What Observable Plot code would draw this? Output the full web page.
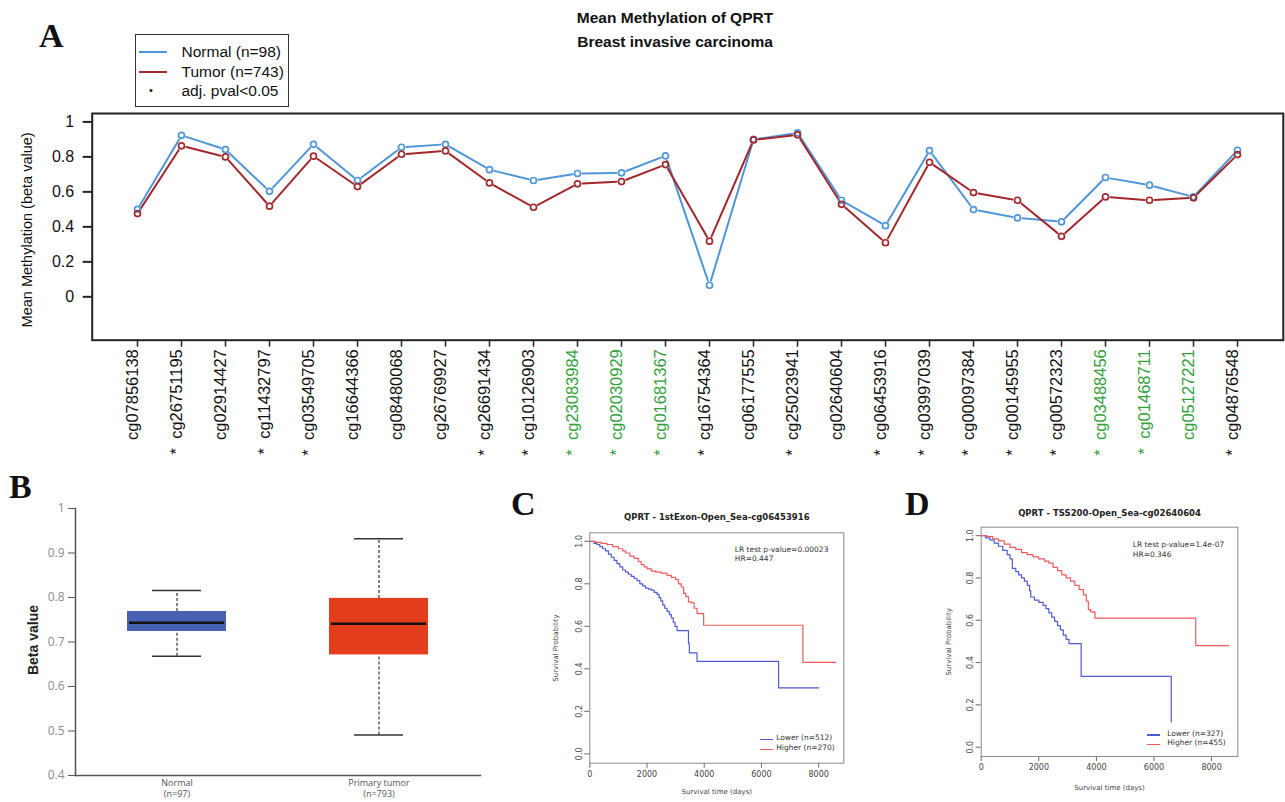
<!DOCTYPE html>
<html><head><meta charset="utf-8">
<script src="https://cdn.jsdelivr.net/npm/d3@7"></script>
<script src="https://cdn.jsdelivr.net/npm/@observablehq/plot@0.6"></script>
<style>
body{margin:0;background:#fff;}
#fig{position:relative;width:1285px;height:802px;overflow:hidden;background:#fff;font-family:Arial,"Liberation Sans",sans-serif;}
.letter{position:absolute;font-family:"Liberation Serif","Times New Roman",serif;font-weight:bold;font-size:34px;line-height:34px;color:#111;}
.t{position:absolute;white-space:nowrap;}
</style></head><body><div id="fig"></div><script>
// ---------- Panel A data ----------
const probes = ["cg07856138","cg26751195","cg02914427","cg11432797","cg03549705","cg16644366","cg08480068","cg26769927","cg26691434","cg10126903","cg23083984","cg02030929","cg01681367","cg16754364","cg06177555","cg25023941","cg02640604","cg06453916","cg03997039","cg00097384","cg00145955","cg00572323","cg03488456","cg01468711","cg05127221","cg04876548"];
const normalMean = [0.500,0.923,0.842,0.603,0.872,0.665,0.855,0.872,0.727,0.665,0.705,0.709,0.806,0.066,0.900,0.937,0.552,0.407,0.836,0.499,0.451,0.429,0.682,0.638,0.571,0.838];
const tumorMean  = [0.476,0.863,0.800,0.518,0.804,0.630,0.815,0.834,0.651,0.512,0.646,0.659,0.756,0.318,0.897,0.926,0.529,0.309,0.769,0.596,0.552,0.346,0.571,0.552,0.566,0.813];
const significant = [0,1,0,1,1,0,0,0,1,1,1,1,1,1,0,1,0,1,1,1,1,1,1,1,0,1];
const highlighted = [0,0,0,0,0,0,0,0,0,0,1,1,1,0,0,0,0,0,0,0,0,0,1,1,1,0];
const yTicksA = [0,0.2,0.4,0.6,0.8,1];
const titleA = ["Mean Methylation of QPRT","Breast invasive carcinoma"];
const legendA = ["Normal (n=98)","Tumor (n=743)","adj. pval<0.05"];

// ---------- Panel B data ----------
const boxGroups = ["Normal","Primary tumor"];
const boxN = [97,793];
const boxMin = [0.668,0.491];
const boxQ1 = [0.7236,0.671];
const boxMedian = [0.743,0.741];
const boxQ3 = [0.7685,0.798];
const boxMax = [0.8157,0.932];
const yTicksB = [0.4,0.5,0.6,0.7,0.8,0.9,1];

// ---------- Panels C / D data (Kaplan-Meier steps) ----------
const cLowerT = [0,150,250,350,450,550,650,750,850,950,1050,1150,1250,1350,1450,1550,1650,1750,1850,1950,2050,2150,2250,2350,2420,2480,2550,2620,2700,2780,2850,2920,2980,3050,3450,3480,3750,6600,8000];
const cLowerS = [1,0.99,0.985,0.975,0.965,0.955,0.94,0.925,0.91,0.895,0.88,0.865,0.855,0.845,0.835,0.825,0.815,0.80,0.79,0.78,0.775,0.77,0.76,0.75,0.735,0.72,0.70,0.685,0.67,0.655,0.64,0.62,0.60,0.58,0.52,0.475,0.435,0.31,0.31];
const cHigherT = [0,200,400,600,800,1000,1150,1250,1400,1550,1700,1800,1900,2000,2150,2300,2500,2700,2850,3000,3100,3200,3280,3350,3450,3550,3650,3750,3980,7450,8600];
const cHigherS = [1,0.995,0.99,0.985,0.975,0.965,0.955,0.945,0.93,0.92,0.905,0.89,0.88,0.87,0.86,0.855,0.85,0.84,0.83,0.82,0.80,0.785,0.755,0.74,0.715,0.71,0.685,0.66,0.605,0.43,0.43];
const dLowerT = [0,150,300,450,600,750,900,1000,1080,1200,1300,1400,1500,1600,1680,1720,1850,2000,2150,2250,2350,2450,2550,2650,2750,2850,2950,3050,3470,6600];
const dLowerS = [1,0.99,0.98,0.965,0.95,0.93,0.91,0.89,0.845,0.83,0.815,0.80,0.785,0.765,0.74,0.71,0.695,0.685,0.67,0.655,0.635,0.615,0.595,0.575,0.555,0.53,0.51,0.49,0.335,0.12];
const dHigherT = [0,200,400,600,800,1000,1200,1400,1600,1800,2000,2200,2350,2500,2650,2800,2950,3100,3250,3400,3550,3650,3720,3800,3950,7450,8600];
const dHigherS = [1,0.995,0.985,0.975,0.96,0.945,0.935,0.92,0.91,0.9,0.89,0.88,0.87,0.85,0.835,0.815,0.8,0.785,0.765,0.745,0.72,0.69,0.65,0.64,0.61,0.48,0.48];
const kmYTicks = [0,0.2,0.4,0.6,0.8,1.0];
const kmXTicks = [0,2000,4000,6000,8000];

// ---------- colours ----------
const blueA = "#4f96d8", redA = "#a3282b", greenA = "#33a03c";
const boxColors = ["#4761b2","#e43d1c"];
const kmBlue = "#4d5bd2", kmRed = "#f25a5a";

const fig = document.getElementById("fig");
function place(el, left, top){ el.style.position="absolute"; el.style.left=left+"px"; el.style.top=top+"px"; fig.appendChild(el); return el; }
function addText(txt, left, top, css){ const d=document.createElement("div"); d.className="t"; d.textContent=txt; Object.assign(d.style,css||{}); return place(d,left,top); }
function addLetter(ch,left,top){ const d=document.createElement("div"); d.className="letter"; d.textContent=ch; return place(d,left,top); }
function addSwatch(left, top, w, color, h){ const d=document.createElement("div"); Object.assign(d.style,{width:w+"px",height:(h||2)+"px",background:color}); return place(d,left,top); }

// ---------- Panel A ----------
const rowsA = probes.map((p,i)=>({probe:p, normal:normalMean[i], tumor:tumorMean[i], sig:significant[i], hl:highlighted[i]}));
function segs(vals){ return probes.slice(1).map((p,i)=>({x1:probes[i], y1:vals[i], x2:p, y2:vals[i+1]})); }
const plotA = Plot.plot({
  width:1285, height:480, marginLeft:91.7, marginRight:2.2, marginTop:113, marginBottom:140.3,
  style:{fontFamily:"Arial, 'Liberation Sans', sans-serif", fontSize:"16px", color:"#111", background:"transparent"},
  x:{type:"point", domain:probes, padding:1},
  y:{domain:[-0.248,1.048]},
  marks:[
    Plot.axisY({ticks:yTicksA, tickSize:9, tickPadding:9, tickFormat:d=>String(d), label:null, fontSize:16, strokeWidth:2, stroke:"#222"}),
    Plot.axisX({tickSize:7, tickFormat:()=>"", label:null, strokeWidth:1.5, stroke:"#222"}),
    Plot.arrow(segs(normalMean), {x1:"x1",y1:"y1",x2:"x2",y2:"y2", stroke:blueA, strokeWidth:2, inset:5, headLength:0}),
    Plot.arrow(segs(tumorMean), {x1:"x1",y1:"y1",x2:"x2",y2:"y2", stroke:redA, strokeWidth:2, inset:5, headLength:0}),
    Plot.dot(rowsA, {x:"probe", y:"normal", r:3, stroke:blueA, strokeWidth:1.7}),
    Plot.dot(rowsA, {x:"probe", y:"tumor", r:3, stroke:redA, strokeWidth:1.7}),
    Plot.text(rowsA, {x:"probe", text:d=>(d.sig?"*  ":"")+d.probe, frameAnchor:"bottom", rotate:-90, textAnchor:"end", dy:9, fontSize:16.5, fill:d=>d.hl?greenA:"#111"}),
    Plot.text(["Mean Methylation (beta value)"], {frameAnchor:"left", rotate:-90, textAnchor:"middle", dx:-65, dy:3, fontSize:14.5, fill:"#111"}),
    Plot.frame({stroke:"#222", strokeWidth:2})
  ]
});
place(plotA,0,0);
addLetter("A",39,18.5);
addText(titleA[0],475,9,{width:"400px",textAlign:"center",fontWeight:"bold",fontSize:"15.5px",lineHeight:"18px",color:"#111"});
addText(titleA[1],475,33,{width:"400px",textAlign:"center",fontWeight:"bold",fontSize:"15.5px",lineHeight:"18px",color:"#111"});
// legend box
const lg = document.createElement("div");
Object.assign(lg.style,{width:"152px",height:"71px",border:"1.5px solid #333",background:"#fff"});
place(lg,135,34);
addSwatch(139,51,28,blueA,2);
addSwatch(139,70.5,28,redA,2);
addText("•",149,81,{fontSize:"11px",lineHeight:"18px",color:"#111"});
addText(legendA[0],181.5,43,{fontSize:"15.5px",lineHeight:"18px",color:"#111"});
addText(legendA[1],181.5,62.5,{fontSize:"15.5px",lineHeight:"18px",color:"#111"});
addText(legendA[2],181.5,82,{fontSize:"15.5px",lineHeight:"18px",color:"#111"});

// ---------- Panel B ----------
const rowsB = boxGroups.map((g,i)=>({group:g, min:boxMin[i], q1:boxQ1[i], median:boxMedian[i], q3:boxQ3[i], max:boxMax[i], color:boxColors[i], n:boxN[i]}));
const plotB = Plot.plot({
  width:520, height:332, marginLeft:75, marginRight:40, marginTop:38, marginBottom:27,
  style:{fontFamily:"'Open Sans', Arial, sans-serif", fontSize:"12px", color:"#555", background:"transparent"},
  x:{type:"band", domain:boxGroups, paddingInner:0.51, paddingOuter:0.255},
  y:{domain:[0.4,1]},
  marks:[
    Plot.ruleX(rowsB, {x:"group", y1:"min", y2:"q1", stroke:"#333", strokeDasharray:"3,2", strokeWidth:1.2}),
    Plot.ruleX(rowsB, {x:"group", y1:"q3", y2:"max", stroke:"#333", strokeDasharray:"3,2", strokeWidth:1.2}),
    Plot.tickY(rowsB, {x:"group", y:"min", stroke:"#333", strokeWidth:1.5, insetLeft:25, insetRight:25}),
    Plot.tickY(rowsB, {x:"group", y:"max", stroke:"#333", strokeWidth:1.5, insetLeft:25, insetRight:25}),
    Plot.barY(rowsB, {x:"group", y1:"q1", y2:"q3", fill:"color"}),
    Plot.tickY(rowsB, {x:"group", y:"median", stroke:"#111", strokeWidth:2.5, insetLeft:2, insetRight:2}),
    Plot.axisY({ticks:yTicksB, tickFormat:d=>String(d), tickSize:7, tickPadding:4, fontSize:12, fill:"#8c8c8c", stroke:"#555", label:null}),
    Plot.axisX({tickSize:0, tickPadding:3, tickFormat:(d)=>d+"\n(n="+boxN[boxGroups.indexOf(d)]+")", fontSize:9, fill:"#555", label:null, lineHeight:1.2}),
    Plot.frame({anchor:"left", stroke:"#555", strokeWidth:1.5}),
    Plot.frame({anchor:"bottom", stroke:"#555", strokeWidth:1.5})
  ]
});
place(plotB,0,470);
addLetter("B",9,469.5);
const bl = addText("Beta value",0,0,{fontWeight:"bold",fontSize:"14px",lineHeight:"16px",color:"#222",fontFamily:"Arial, sans-serif"});
Object.assign(bl.style,{left:"33px",top:"640px",transform:"translate(-50%,-50%) rotate(-90deg)"});

// ---------- Panels C & D ----------
function toRows(T,S){ return T.map((t,i)=>({t, s:S[i]})); }
function km(cfg){
  return Plot.plot({
    width:cfg.w, height:cfg.h, marginLeft:cfg.ml, marginRight:cfg.mr, marginTop:cfg.mt, marginBottom:cfg.mb,
    style:{fontFamily:"'DejaVu Sans', sans-serif", fontSize:"8px", color:"#333", background:"transparent"},
    x:{domain:[0,cfg.xmax]},
    y:{domain:[-0.044,1.04]},
    marks:[
      Plot.axisY({ticks:kmYTicks, tickFormat:d=>d.toFixed(1), tickRotate:-90, tickSize:5, tickPadding:3, fontSize:8, stroke:"#666", fill:"#444", label:null}),
      Plot.axisX({ticks:kmXTicks, tickFormat:d=>String(d), tickSize:5, tickPadding:3, fontSize:8, stroke:"#666", fill:"#444", label:null}),
      Plot.line(toRows(cfg.lowT,cfg.lowS), {x:"t", y:"s", curve:"step-after", stroke:kmBlue, strokeWidth:1.2}),
      Plot.line(toRows(cfg.hiT,cfg.hiS), {x:"t", y:"s", curve:"step-after", stroke:kmRed, strokeWidth:1.2}),
      Plot.text([cfg.title], {frameAnchor:"top", dy:cfg.titleDy, fontWeight:"bold", fontSize:8.5, fill:"#222"}),
      Plot.text(["Survival time (days)"], {frameAnchor:"bottom", dy:cfg.xlabDy, fontSize:7, fill:"#444"}),
      Plot.text(["Survival Probability"], {frameAnchor:"left", rotate:-90, textAnchor:"middle", dx:cfg.ylabDx, fontSize:7, fill:"#444"}),
      Plot.text(["LR test p-value="+cfg.p], {frameAnchor:"top-left", dx:cfg.lrDx, dy:cfg.lrDy, textAnchor:"start", fontSize:7.5, fill:"#333"}),
      Plot.text(["HR="+cfg.hr], {frameAnchor:"top-left", dx:cfg.lrDx, dy:cfg.lrDy+9.7, textAnchor:"start", fontSize:7.5, fill:"#333"}),
      Plot.text(["Lower (n="+cfg.nLow+")"], {frameAnchor:"bottom-left", dx:cfg.lgDx, dy:cfg.lgDy, textAnchor:"start", fontSize:7.5, fill:"#333"}),
      Plot.text(["Higher (n="+cfg.nHi+")"], {frameAnchor:"bottom-left", dx:cfg.lgDx, dy:cfg.lgDy+9.8, textAnchor:"start", fontSize:7.5, fill:"#333"}),
      Plot.frame({stroke:"#8a8a8a"})
    ]
  });
}
const plotC = km({w:320,h:322,ml:49.3,mr:16.7,mt:52.3,mb:39.3,xmax:8880,
  lowT:cLowerT,lowS:cLowerS,hiT:cHigherT,hiS:cHigherS,
  title:"QPRT - 1stExon-Open_Sea-cg06453916", titleDy:-19, xlabDy:30.6, ylabDx:-34.3,
  p:"0.00023", hr:"0.447", lrDx:145, lrDy:13.4, nLow:512, nHi:270, lgDx:186.4, lgDy:-23.4});
place(plotC,540,480);
addSwatch(760,738.5,13,kmBlue,1.5);
addSwatch(760,748.5,13,kmRed,1.5);
addLetter("C",511,486.5);

const plotD = km({w:355,h:322,ml:50.7,mr:47.7,mt:46.7,mb:46,xmax:8910,
  lowT:dLowerT,lowS:dLowerS,hiT:dHigherT,hiS:dHigherS,
  title:"QPRT - TSS200-Open_Sea-cg02640604", titleDy:-17.4, xlabDy:33, ylabDx:-32.4,
  p:"1.4e-07", hr:"0.346", lrDx:151.6, lrDy:14.3, nLow:327, nHi:455, lgDx:186, lgDy:-21});
place(plotD,930,480);
addSwatch(1146.7,734.3,13,kmBlue,1.5);
addSwatch(1146.7,743.6,13,kmRed,1.5);
addLetter("D",905,486.5);
</script></body></html>
